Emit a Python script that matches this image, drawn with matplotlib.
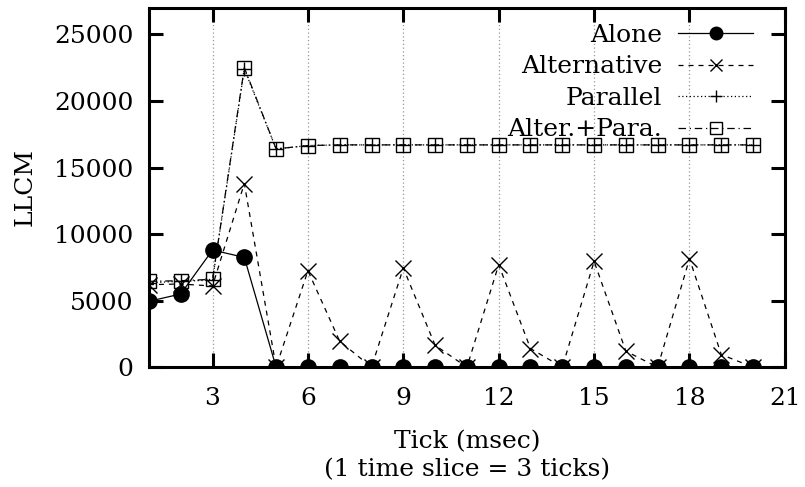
import matplotlib
matplotlib.use("Agg")
import matplotlib.pyplot as plt

# LLCM per tick for four scheduling setups
ticks = list(range(1, 21))
alone = [4950, 5500, 8800, 8250] + [0] * 16
alternative = [6200, 6250, 6100, 13800, 0, 7250, 1950, 0, 7450, 1650,
               0, 7700, 1400, 0, 7950, 1200, 0, 8150, 950, 0]
parallel = [6350, 6450, 6550, 22400, 16400, 16650, 16700, 16700, 16700, 16700,
            16700, 16700, 16700, 16700, 16700, 16700, 16700, 16700, 16700, 16700]
alter_para = [6450, 6500, 6600, 22500, 16400, 16650, 16700, 16700, 16700, 16700,
              16700, 16700, 16700, 16700, 16700, 16700, 16700, 16700, 16700, 16700]
xticks = [3, 6, 9, 12, 15, 18, 21]
yticks = [0, 5000, 10000, 15000, 20000, 25000]

plt.rcParams['font.family'] = ['DejaVu Serif']
plt.rcParams['font.size'] = 18

fig = plt.figure(figsize=(8.05, 4.87), dpi=100)
ax = fig.add_axes([0.185, 0.246, 0.79, 0.738])

lw = 0.9
ax.plot(ticks, alone, color='black', lw=lw, marker='o', ms=11,
        label='Alone')
ax.plot(ticks, alternative, color='black', lw=lw, ls=(0, (4, 4)), marker='x',
        ms=12, mew=1.0, label='Alternative')
ax.plot(ticks, parallel, color='black', lw=lw, ls=(0, (1, 2)), marker='+',
        ms=10.5, mew=1.0, label='Parallel')
ax.plot(ticks, alter_para, color='black', lw=lw, ls=(0, (6, 3, 1, 3)), marker='s',
        ms=10, mew=1.0, mfc='none', label='Alter.+Para.')

ax.set_xlim(1, 21)
ax.set_ylim(0, 27000)
ax.set_xticks(xticks)
ax.set_yticks(yticks)
ax.xaxis.grid(True, color='#999999', ls=(0, (1, 2)), lw=0.9)
ax.tick_params(direction='in', length=10, width=2.2, top=True, right=True, pad=11)
ax.tick_params(axis='x', pad=14)
for s in ax.spines.values():
    s.set_linewidth(2.2)

ax.set_ylabel('LLCM', labelpad=13)
ax.set_xlabel('Tick (msec)\n(1 time slice = 3 ticks)', labelpad=15, linespacing=1.28)

leg = ax.legend(loc='upper right', bbox_to_anchor=(0.95, 0.955), frameon=False,
                markerfirst=False, handlelength=3.0, handletextpad=0.64,
                labelspacing=0.34, borderaxespad=0, borderpad=0)
for h, ms in zip(leg.legend_handles, [9, 9, 9, 8]):
    h.set_markersize(ms)

fig.savefig('out.png', dpi=100)
